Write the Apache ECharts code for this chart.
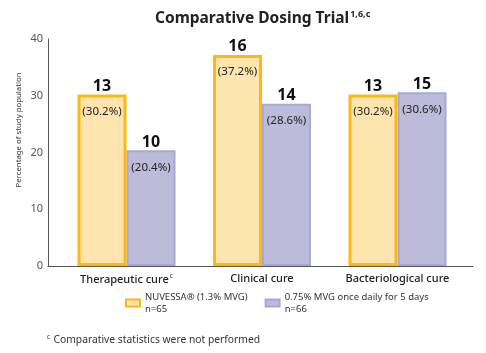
<!DOCTYPE html>
<html><head><meta charset="utf-8">
<script src="https://cdn.jsdelivr.net/npm/echarts@6/dist/echarts.min.js"></script>
<style>html,body{margin:0;padding:0;background:#fff}#c{width:486px;height:353px}</style>
</head><body><div id="c"></div>
<script>
const categories = ['Therapeutic cure', 'Clinical cure', 'Bacteriological cure'];
const categorySup = ['c', '', ''];
const seriesNames = ['NUVESSA® (1.3% MVG)', '0.75% MVG once daily for 5 days'];
const seriesN = ['n=65', 'n=66'];
const nuvessaPct = [30.2, 37.2, 30.2];
const nuvessaCount = [13, 16, 13];
const mvgPct = [20.4, 28.6, 30.6];
const mvgCount = [10, 14, 15];
const yTicks = [0, 10, 20, 30, 40];

const FONT = 'Noto Sans';
const chart = echarts.init(document.getElementById('c'), null, {renderer: 'canvas'});

function barLabel(counts) {
  return {
    show: true,
    position: 'insideTop',
    distance: 0,
    offset: [0, -18],
    formatter: p => '{n|' + counts[p.dataIndex] + '}\n{p|(' + p.value.toFixed(1) + '%)}',
    rich: {
      n: {fontFamily: FONT, fontWeight: 'bold', fontSize: 16, color: '#111', lineHeight: 20, align: 'center'},
      p: {fontFamily: FONT, fontSize: 11.5, color: '#222', lineHeight: 30, align: 'center'}
    }
  };
}

chart.setOption({
  animation: false,
  title: {
    text: '{t|Comparative Dosing Trial}{s|1,6,c}',
    left: 155, top: 10, padding: 0,
    textStyle: {
      rich: {
        t: {fontFamily: FONT, fontWeight: 'bold', fontSize: 15.5, color: '#222'},
        s: {fontFamily: FONT, fontWeight: 'bold', fontSize: 9, color: '#222', verticalAlign: 'top', padding: [0, 0, 8, 1]}
      }
    }
  },
  grid: [
    {left: 48, right: 13, top: 39, bottom: 87},
    {left: 58.75, right: 20.75, top: 39, bottom: 87}
  ],
  xAxis: [
    {gridIndex: 0, type: 'value', min: 0, max: 1, axisLine: {show: true, lineStyle: {color: '#555', width: 1}},
     axisTick: {show: false}, axisLabel: {show: false}, splitLine: {show: false}},
    {gridIndex: 1, type: 'category', data: categories, axisLine: {show: false}, axisTick: {show: false},
     axisLabel: {
       margin: 7, interval: 0,
       formatter: (v, i) => '{c|' + v + '}' + (categorySup[i] ? '{s|' + categorySup[i] + '}' : ''),
       rich: {
         c: {fontFamily: FONT, fontSize: 11, fontWeight: 500, color: '#222'},
         s: {fontFamily: FONT, fontSize: 6.5, color: '#222', verticalAlign: 'top', padding: [0, 0, 6, 1]}
       }
     }}
  ],
  yAxis: [
    {gridIndex: 0, type: 'value', min: 0, max: 40, interval: 10,
     axisLine: {show: true, lineStyle: {color: '#555', width: 1}}, axisTick: {show: false},
     splitLine: {show: false},
     axisLabel: {fontFamily: FONT, fontSize: 11, color: '#555', margin: 5}},
    {gridIndex: 1, type: 'value', min: 0, max: 40, interval: 10, show: false, splitLine: {show: false}}
  ],
  legend: {
    top: 285, left: 125, padding: 0,
    itemWidth: 14, itemHeight: 7, itemGap: 17,
    icon: 'rect',
    data: seriesNames,
    formatter: name => {
      const i = seriesNames.indexOf(name);
      return name + '\n' + seriesN[i];
    },
    textStyle: {fontFamily: FONT, fontSize: 9.5, color: '#333', lineHeight: 12, padding: [12, 0, 0, 0]}
  },
  graphic: [
    {type: 'text', x: 19, y: 130, rotation: Math.PI / 2,
     style: {text: 'Percentage of study population', fontFamily: FONT, fontSize: 7.8, fill: '#333',
       align: 'center', verticalAlign: 'middle'}},
    {type: 'text', left: 47, top: 334,
     style: {text: '{s|c} {t|Comparative statistics were not performed}',
       rich: {
         s: {fontFamily: FONT, fontSize: 6.5, fill: '#333', verticalAlign: 'top', padding: [0, 0, 5, 0]},
         t: {fontFamily: FONT, fontSize: 10.3, fill: '#333'}
       }}}
  ],
  series: [
    {name: seriesNames[0], type: 'bar', xAxisIndex: 1, yAxisIndex: 1, data: nuvessaPct,
     barWidth: 49, barGap: '0%', z: 3,
     itemStyle: {color: '#FEE4AE', borderColor: '#FDB913', borderWidth: 3},
     label: barLabel(nuvessaCount)},
    {name: seriesNames[1], type: 'bar', xAxisIndex: 1, yAxisIndex: 1, data: mvgPct,
     barWidth: 49, barGap: '0%', z: 2,
     itemStyle: {color: '#BCBCDA', borderColor: '#A8A8D2', borderWidth: 2},
     label: barLabel(mvgCount)}
  ]
});
</script></body></html>
